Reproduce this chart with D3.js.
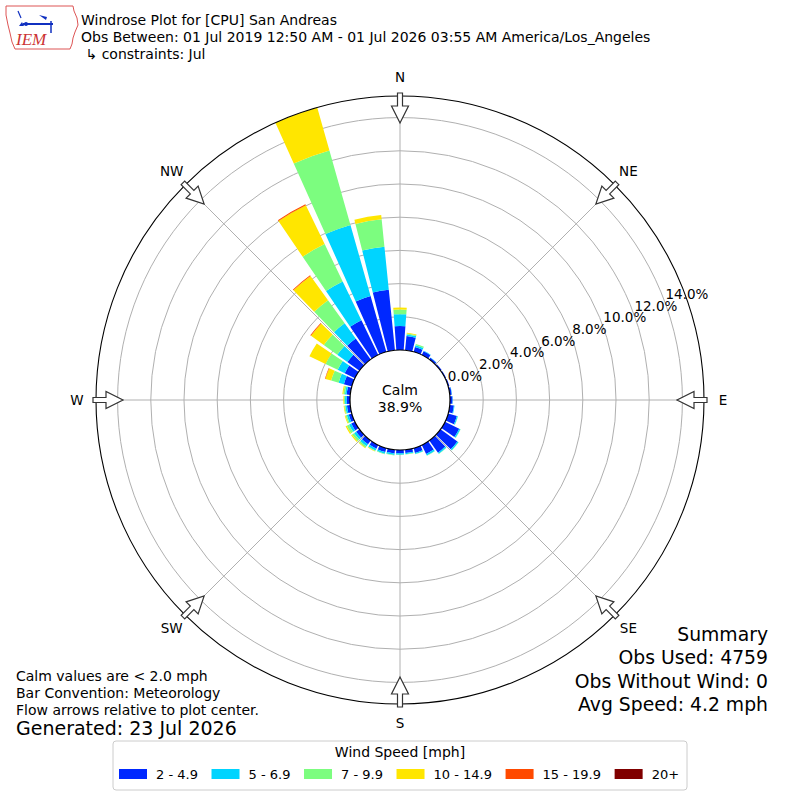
<!DOCTYPE html>
<html><head><meta charset="utf-8">
<script src="https://cdn.jsdelivr.net/npm/d3@7"></script>
<style>body{margin:0;background:#fff} text{font-family:"DejaVu Sans",sans-serif;fill:#000}</style>
</head><body><svg id="c" width="800" height="800"></svg>
<script>
// ---- data ----
const directions = [0,10,20,30,40,50,60,70,80,90,100,110,120,130,140,150,160,170,180,190,200,210,220,230,240,250,260,270,280,290,300,310,320,330,340,350];
const speedBins = ["2 - 4.9","5 - 6.9","7 - 9.9","10 - 14.9","15 - 19.9","20+"];
const binColors = ["#0028ff","#00d4ff","#7cfd7f","#ffe600","#ff4a00","#800000"];
const s2_49   = [1.44,0.86,0.30,0.25,0.12,0.08,0.07,0.08,0.12,0.15,0.25,0.55,0.95,1.25,0.90,0.60,0.30,0.20,0.20,0.22,0.25,0.25,0.28,0.25,0.25,0.20,0.20,0.20,0.22,0.50,0.69,0.90,1.55,2.33,3.50,3.67];
const s5_69   = [0.72,0.10,0.12,0.03,0.02,0,0,0,0.02,0.02,0.04,0.06,0.08,0.08,0.08,0.10,0.07,0.07,0.08,0.10,0.10,0.12,0.15,0.15,0.15,0.12,0.10,0.10,0.10,0.33,0.47,0.75,1.14,2.59,4.45,2.60];
const s7_99   = [0.28,0.05,0.08,0,0,0,0,0,0,0,0,0.01,0.02,0.02,0.02,0.02,0.02,0.02,0.02,0.03,0.04,0.05,0.10,0.15,0.15,0.08,0.06,0.06,0.10,0.47,0.81,1.00,1.71,2.50,4.65,1.66];
const s10_149 = [0.12,0.05,0,0,0,0,0,0,0,0,0,0,0,0,0,0,0,0,0,0,0,0.02,0.04,0.07,0.08,0.05,0.04,0.04,0.06,0.36,1.08,0.95,1.80,2.60,2.70,0.26];
const s15_199 = [0,0,0,0,0,0,0,0,0,0,0,0,0,0,0,0,0,0,0,0,0,0,0,0,0,0,0,0,0,0.03,0,0.05,0.05,0.06,0,0];
const s20p    = [0,0,0,0,0,0,0,0,0,0,0,0,0,0,0,0,0,0,0,0,0,0,0,0,0,0,0,0,0,0,0,0,0,0,0,0];
const ringTicks = [0,2,4,6,8,10,12,14];
const compassLabels = ["N","NE","E","SE","S","SW","W","NW"];
const compassAngles = [0,45,90,135,180,225,270,315];
const calmPct = "38.9%";
const titleLines = ["Windrose Plot for [CPU] San Andreas","Obs Between: 01 Jul 2019 12:50 AM - 01 Jul 2026 03:55 AM America/Los_Angeles"," \u21b3 constraints: Jul"];
const leftNotes = ["Calm values are < 2.0 mph","Bar Convention: Meteorology","Flow arrows relative to plot center."];
const generated = "Generated: 23 Jul 2026";
const summary = ["Summary","Obs Used: 4759","Obs Without Wind: 0","Avg Speed: 4.2 mph"];
const rMaxValue = 15.3;

// ---- drawing ----
const svg = d3.select("#c");
svg.append("rect").attr("width",800).attr("height",800).attr("fill","#fff");
const cx = 400, cy = 400;
const r = d3.scaleLinear().domain([0, rMaxValue]).range([50, 304]);
const ang = d3.scaleLinear().domain([0,360]).range([0, 2*Math.PI]);
const g = svg.append("g").attr("transform",`translate(${cx},${cy})`);

// rings
g.selectAll("circle.ring").data(ringTicks.filter(t=>t>0)).join("circle")
  .attr("r", d=>r(d)).attr("fill","none").attr("stroke","#b0b0b0").attr("stroke-width",1);
// radial grid
g.selectAll("line.spoke").data(compassAngles).join("line")
  .attr("x1",0).attr("y1",0)
  .attr("x2", d=>r(rMaxValue)*Math.sin(ang(d)))
  .attr("y2", d=>-r(rMaxValue)*Math.cos(ang(d)))
  .attr("stroke","#b0b0b0").attr("stroke-width",1);

// stacked bars
const series = [s2_49,s5_69,s7_99,s10_149,s15_199,s20p];
const rows = directions.map((d,i)=>{ const o={dir:d}; speedBins.forEach((b,j)=>o[b]=series[j][i]); return o; });
const stacked = d3.stack().keys(speedBins)(rows);
const halfW = 4.2;
const arc = d3.arc();
stacked.forEach((layer,j)=>{
  g.append("g").selectAll("path").data(layer.filter(s=>s[1]-s[0]>0)).join("path")
    .attr("d", s=>arc({innerRadius:r(s[0]), outerRadius:r(s[1]),
        startAngle:ang(s.data.dir-halfW), endAngle:ang(s.data.dir+halfW)}))
    .attr("fill", binColors[j]);
});

// outer circle
g.append("circle").attr("r", r(rMaxValue)).attr("fill","none").attr("stroke","#000").attr("stroke-width",1.1);
// calm circle
g.append("circle").attr("r", r(0)).attr("fill","#fff").attr("stroke","#000").attr("stroke-width",1.2);
g.append("text").attr("x",0).attr("y",-5).attr("text-anchor","middle").attr("font-size",14).text("Calm");
g.append("text").attr("x",0).attr("y",12).attr("text-anchor","middle").attr("font-size",14).text(calmPct);

// ring labels
const la = 20.5*Math.PI/180;
g.selectAll("text.rl").data(ringTicks).join("text")
  .attr("x", d=>r(d)*Math.cos(la)+1)
  .attr("y", d=>-r(d)*Math.sin(la)-2)
  .attr("font-size",13.5).attr("text-anchor","start")
  .text(d=>d3.format(".1f")(d)+"%");

// arrows
const arrowPts = [[-2.5,307],[2.5,307],[2.5,294],[8.5,294],[0,277],[-8.5,294],[-2.5,294]];
g.selectAll("path.arrow").data(compassAngles).join("path")
  .attr("d", "M"+arrowPts.map(p=>`${p[0]},${-p[1]}`).join("L")+"Z")
  .attr("transform", d=>`rotate(${d})`)
  .attr("fill","#fff").attr("stroke","#333").attr("stroke-width",1.2).attr("stroke-linejoin","miter");

// compass labels
g.selectAll("text.cl").data(compassAngles).join("text")
  .attr("x", d=>323*Math.sin(ang(d)))
  .attr("y", d=>-323*Math.cos(ang(d))+4.5)
  .attr("text-anchor","middle").attr("font-size",13.5)
  .text((d,i)=>compassLabels[i]);

// title
svg.selectAll("text.t").data(titleLines).join("text")
  .attr("x",81).attr("y",(d,i)=>25+i*17).attr("font-size",14).attr("xml:space","preserve")
  .style("white-space","pre").text(d=>d);

// logo
const logo = svg.append("g");
logo.append("path").attr("d","M6,6 L73,6 L74,11 L77,18 L78,25 L75,32 L73,38 L72,44 L70,49 L15,49 L12,42 L10,33 L8,25 L6,15 Z")
  .attr("fill","none").attr("stroke","#d55").attr("stroke-width",1);
logo.append("line").attr("x1",23).attr("y1",24).attr("x2",53).attr("y2",24).attr("stroke","#1030c0").attr("stroke-width",2);
logo.append("circle").attr("cx",26).attr("cy",24).attr("r",2).attr("fill","#1030c0");
logo.append("path").attr("d","M39,15 L47,17 L46,20 Z").attr("fill","#1030c0");
logo.append("line").attr("x1",51).attr("y1",21).attr("x2",51).attr("y2",33).attr("stroke","#1030c0").attr("stroke-width",1.5);
logo.append("line").attr("x1",18).attr("y1",11).attr("x2",21).attr("y2",18).attr("stroke","#1030c0").attr("stroke-width",1.2);
logo.append("path").attr("d","M19,26 L22,22 L24,26 Z").attr("fill","#1030c0");
logo.append("text").attr("x",16).attr("y",45).attr("font-size",17).attr("font-style","italic")
  .style("font-family","'Liberation Serif',serif").style("fill","#c33").text("IEM");

// left notes
svg.selectAll("text.ln").data(leftNotes).join("text")
  .attr("x",16).attr("y",(d,i)=>681+i*17).attr("font-size",14).text(d=>d);
svg.append("text").attr("x",16).attr("y",735).attr("font-size",19).text(generated);

// summary
svg.selectAll("text.sm").data(summary).join("text")
  .attr("x",768).attr("y",(d,i)=>641+i*23.3).attr("font-size",18.8).attr("text-anchor","end").text(d=>d);

// legend
const lg = svg.append("g");
lg.append("rect").attr("x",113).attr("y",741).attr("width",574).attr("height",49).attr("rx",3)
  .attr("fill","#fff").attr("stroke","#cccccc").attr("stroke-width",1);
lg.append("text").attr("x",400).attr("y",757).attr("text-anchor","middle").attr("font-size",14).text("Wind Speed [mph]");
let lx = 119;
speedBins.forEach((b,j)=>{
  lg.append("rect").attr("x",lx).attr("y",769).attr("width",28).attr("height",10).attr("fill",binColors[j]);
  const t = lg.append("text").attr("x",lx+37).attr("y",779).attr("font-size",13).text(b);
  lx = lx+37+t.node().getComputedTextLength()+13.6;
});
</script></body></html>
